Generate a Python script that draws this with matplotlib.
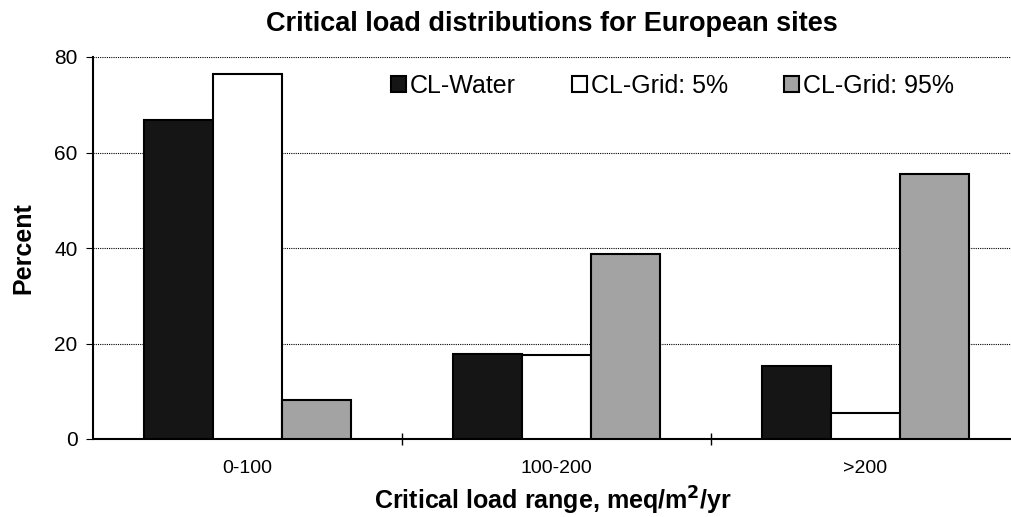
import numpy as np
import matplotlib.pyplot as plt

# Données
categories = ["0-100", "100-200", ">200"]
series_names = ["CL-Water", "CL-Grid: 5%", "CL-Grid: 95%"]
cl_water = [66.8, 17.9, 15.3]
cl_grid_5 = [76.4, 17.6, 5.4]
cl_grid_95 = [8.2, 38.7, 55.6]

colors = ["#151515", "#ffffff", "#a3a3a3"]

plt.rcParams["font.family"] = ["Liberation Sans", "DejaVu Sans"]

fig = plt.figure(figsize=(10.11, 5.17), dpi=100)
ax = fig.add_axes([93 / 1011, 1 - 439 / 517, 927 / 1011, 382 / 517])

x = np.arange(len(categories))
w = 0.224
for k, (vals, name) in enumerate(zip([cl_water, cl_grid_5, cl_grid_95], series_names)):
    ax.bar(x + (k - 1) * w, vals, width=w, color=colors[k], edgecolor="black",
           linewidth=1.5, label=name, zorder=3)

ax.set_xlim(-0.5, 2.5)
ax.set_ylim(0, 80)
ax.set_yticks([0, 20, 40, 60, 80])
ax.yaxis.grid(True, linestyle=(0, (1, 1)), color="black", linewidth=0.8, zorder=0)

# ticks x aux limites des catégories, étiquettes au centre
ax.set_xticks([0.5, 1.5])
ax.set_xticklabels([])
ax.set_xticks(x, minor=True)
ax.set_xticklabels(categories, minor=True, fontsize=14)
ax.tick_params(axis="x", which="minor", length=0, pad=15)
ax.tick_params(axis="x", which="major", direction="inout", length=8, width=1)
ax.tick_params(axis="y", direction="out", length=5, labelsize=15, pad=6)

for s in ["top", "right"]:
    ax.spines[s].set_visible(False)
ax.spines["left"].set_linewidth(1.5)
ax.spines["bottom"].set_linewidth(1.5)

ax.set_ylabel("Percent", fontsize=18, fontweight="bold", labelpad=14)
fig.text(553 / 1011, 1 - 510 / 517, "Critical load range, meq/m$^\\mathbf{2}$/yr",
         fontsize=18, fontweight="bold", ha="center", va="baseline")
fig.text(552 / 1011, 1 - 24 / 517, "Critical load distributions for European sites",
         fontsize=19.5, fontweight="bold", ha="center", va="center")

ax.legend(loc="center left", bbox_to_anchor=(0.297, 0.925), ncol=3, frameon=False,
          fontsize=18, handlelength=0.6, handleheight=0.6, handletextpad=0.15,
          columnspacing=2.25)

fig.savefig("out.png", dpi=100)
